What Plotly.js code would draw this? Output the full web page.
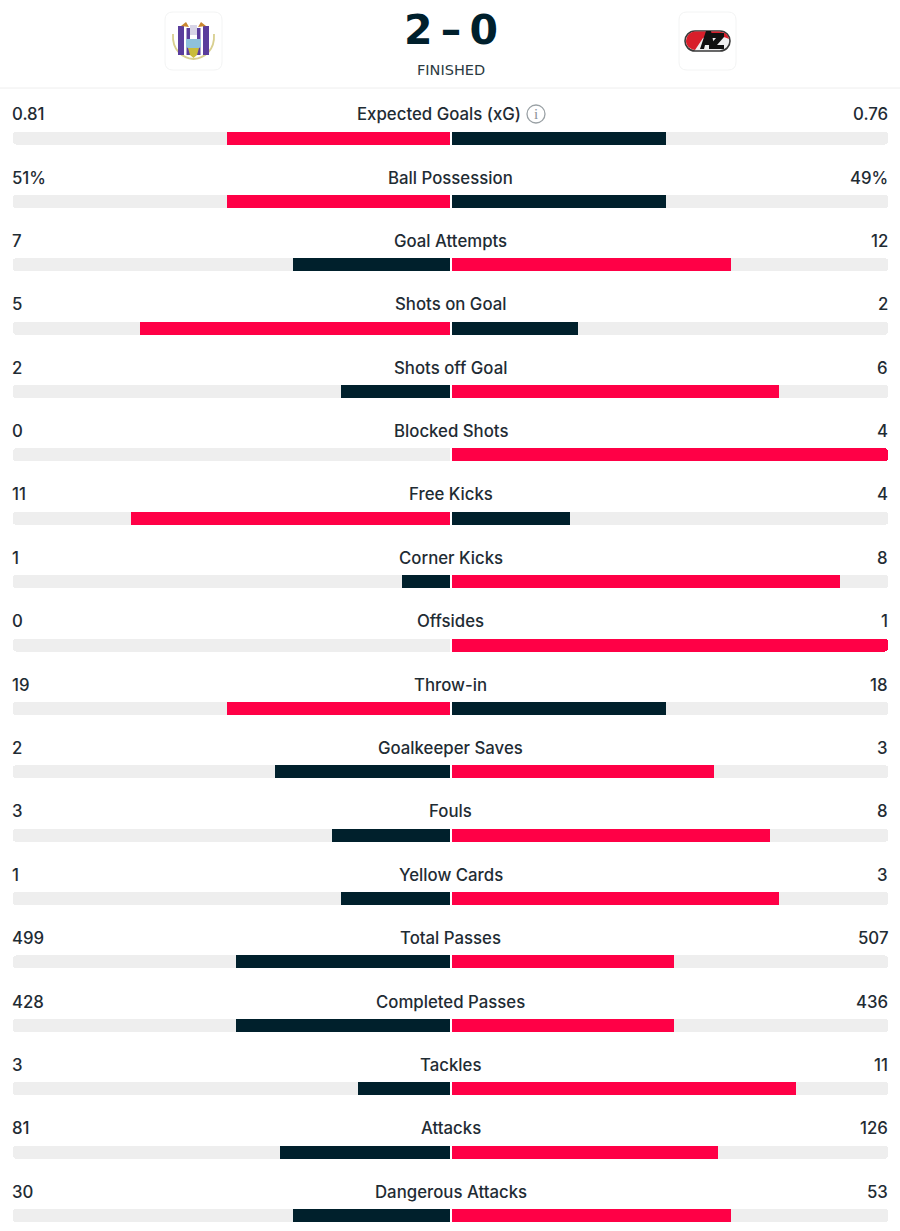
<!DOCTYPE html>
<html>
<head>
<meta charset="utf-8">
<script src="https://cdn.plot.ly/plotly-3.0.1.min.js"></script>
<style>html,body{margin:0;padding:0;background:#fff}#chart{width:900px;height:1231px}</style>
</head>
<body>
<div id="chart"></div>
<script>
const stats = ["Expected Goals (xG)","Ball Possession","Goal Attempts","Shots on Goal","Shots off Goal","Blocked Shots","Free Kicks","Corner Kicks","Offsides","Throw-in","Goalkeeper Saves","Fouls","Yellow Cards","Total Passes","Completed Passes","Tackles","Attacks","Dangerous Attacks"];
const homeLabels = ["0.81","51%","7","5","2","0","11","1","0","19","2","3","1","499","428","3","81","30"];
const awayLabels = ["0.76","49%","12","2","6","4","4","8","1","18","3","8","3","507","436","11","126","53"];
const homeShare = [51,51,36,71,25,0,73,11,0,51,40,27,25,49,49,21,39,36];
const awayShare = [49,49,64,29,75,100,27,89,100,49,60,73,75,51,51,79,61,64];
const fullShare = stats.map(() => 100);

const RED = "#ff0046", DARK = "#00202c", TRACK = "#eeeeee", INK = "#1f2c34";
const W = 900, H = 1231, firstRow = 138, rowStep = 63.38;
const rows = stats.map((_, i) => i);
const hasIcon = s => s === "Expected Goals (xG)";

function bar(x, xaxis, color) {
  return {type:"bar", orientation:"h", x:x, y:rows, xaxis:xaxis, yaxis:"y", width:0.205,
    marker:{color:color, cornerradius:3, line:{width:0}}, hoverinfo:"skip", showlegend:false};
}
const data = [
  bar(fullShare,"x",TRACK),
  bar(fullShare,"x2",TRACK),
  bar(homeShare,"x",homeShare.map((v,i)=>v>=awayShare[i]?RED:DARK)),
  bar(awayShare,"x2",awayShare.map((v,i)=>v>homeShare[i]?RED:DARK))
];

const px = v => v / W;
const py = v => 1 - v / H;
function label(text, x, anchor, row) {
  return {text:text, xref:"paper", yref:"y", x:x, y:row, yshift:23.8, xanchor:anchor, yanchor:"middle",
    showarrow:false, align:anchor, font:{family:"Inter, Roboto, sans-serif", size:16.8, weight:500, color:INK}};
}
const annotations = [];
stats.forEach((s,i) => {
  annotations.push(label(homeLabels[i], px(10), "left", i));
  annotations.push(label(awayLabels[i], px(890), "right", i));
  annotations.push(label(s, px(hasIcon(s) ? 438.5 : 451), "center", i));
});
annotations.push({text:"i", xref:"paper", yref:"paper", x:px(536), y:py(114), showarrow:false, xanchor:"center", yanchor:"middle",
  font:{family:"Liberation Serif, serif", size:15, color:"#8a9297"}});
annotations.push({text:"2\u2009\u2013\u20090", xref:"paper", yref:"paper", x:px(450.5), y:py(30), showarrow:false, xanchor:"center", yanchor:"middle",
  font:{family:"DejaVu Sans, sans-serif", size:41, weight:700, color:"#00202c"}});
annotations.push({text:"FINISHED", xref:"paper", yref:"paper", x:px(451), y:py(70), showarrow:false, xanchor:"center", yanchor:"middle",
  font:{family:"DejaVu Sans, sans-serif", size:14.5, color:"#2c3a42"}});

// Crest artwork is written in tile-local pixels and placed by this helper.
function art(ox, oy, d, fill, stroke, sw) {
  const path = d.replace(/(-?[\d.]+) (-?[\d.]+)/g, (_, a, b) => px(ox + (+a)) + "," + py(oy + (+b)));
  return {type:"path", xref:"paper", yref:"paper", path:path, fillcolor:fill || "rgba(0,0,0,0)",
    line:{color:stroke || "rgba(0,0,0,0)", width:sw || 0}};
}
const rect = (x,y,w,h) => `M${x} ${y} L${x+w} ${y} L${x+w} ${y+h} L${x} ${y+h} Z`;
const tilePath = "M8 0 L49 0 Q57 0 57 8 L57 50 Q57 58 49 58 L8 58 Q0 58 0 50 L0 8 Q0 0 8 0 Z";
const H0 = [165,12], A0 = [679,12];
const shapes = [
  art(...H0, tilePath, "#ffffff", "#f3f4f4", 1),
  art(...A0, tilePath, "#ffffff", "#f3f4f4", 1),
  {type:"line",xref:"paper",yref:"paper",x0:0,x1:1,y0:py(88),y1:py(88),line:{color:"#eeeeee",width:1}},
  {type:"circle",xref:"paper",yref:"paper",x0:px(527),x1:px(545),y0:py(105),y1:py(123),line:{color:"#9aa1a5",width:1.3},fillcolor:"rgba(0,0,0,0)"},
  // home crest
  art(...H0, "M8 22 C7 38 17 46 28.5 47 C40 46 50 38 49 22", null, "#d8cf8f", 1.8),
  art(...H0, rect(13,14,6,29), "#5a3d9c"),
  art(...H0, rect(38,14,6,29), "#5a3d9c"),
  art(...H0, rect(21.5,16,3.5,27), "#5a3d9c"),
  art(...H0, rect(32,16,3.5,27), "#5a3d9c"),
  art(...H0, "M16 14 L21 10 L24 15 Z", "#c9872f"),
  art(...H0, "M33 15 L36 10 L41 14 Z", "#c9872f"),
  art(...H0, rect(25,13,7,10), "#d7d4e6"),
  art(...H0, "M21 27 L36 27 L36 35 L28.5 39 L21 35 Z", "#8fc1dc"),
  art(...H0, "M23 36 L34 36 L32 43 L28.5 46 L25 43 Z", "#c9bc3a"),
  // away crest
  art(...A0, "M16 19 L41 19 C47 19 51 24 51 29 C51 34 47 39 41 39 L16 39 C10 39 6 34 6 29 C6 24 10 19 16 19 Z", "#efeff0", "#3a3a3a", 1.6),
  art(...A0, "M7 29 C8 22 12 19.5 17 19.5 L41 19.5 C36 24 30 24 24 26 L16 38 C10 37 7 33 7 29 Z", "#d81e2a"),
  art(...A0, "M34 20 L42 20 C46 20 49 23 50 27 C44 24 38 24 34 20 Z", "#d81e2a"),
  art(...A0, "M21 37 L27 19 L32 19 L36 37 L31 37 L30 33 L26 33 L25 37 Z", "#111111"),
  art(...A0, "M31 21 L45 21 L45 25 L38 33 L45 33 L45 37 L30 37 L30 34 L37 26 L31 26 Z", "#111111")
];

const hiddenAxis = {visible:false, fixedrange:true, showgrid:false, zeroline:false};
const layout = {
  width:W, height:H, margin:{l:0,r:0,t:0,b:0}, paper_bgcolor:"#ffffff", plot_bgcolor:"#ffffff",
  barmode:"overlay", showlegend:false, bargap:0,
  xaxis:Object.assign({},hiddenAxis,{domain:[px(13),px(450)],range:[100,0],anchor:"y"}),
  xaxis2:Object.assign({},hiddenAxis,{domain:[px(452),px(888)],range:[0,100],anchor:"y"}),
  yaxis:Object.assign({},hiddenAxis,{domain:[0,1],range:[(H-firstRow)/rowStep,-firstRow/rowStep],anchor:"x"}),
  annotations:annotations, shapes:shapes
};
Plotly.newPlot("chart", data, layout, {displayModeBar:false, staticPlot:true});
</script>
</body>
</html>
